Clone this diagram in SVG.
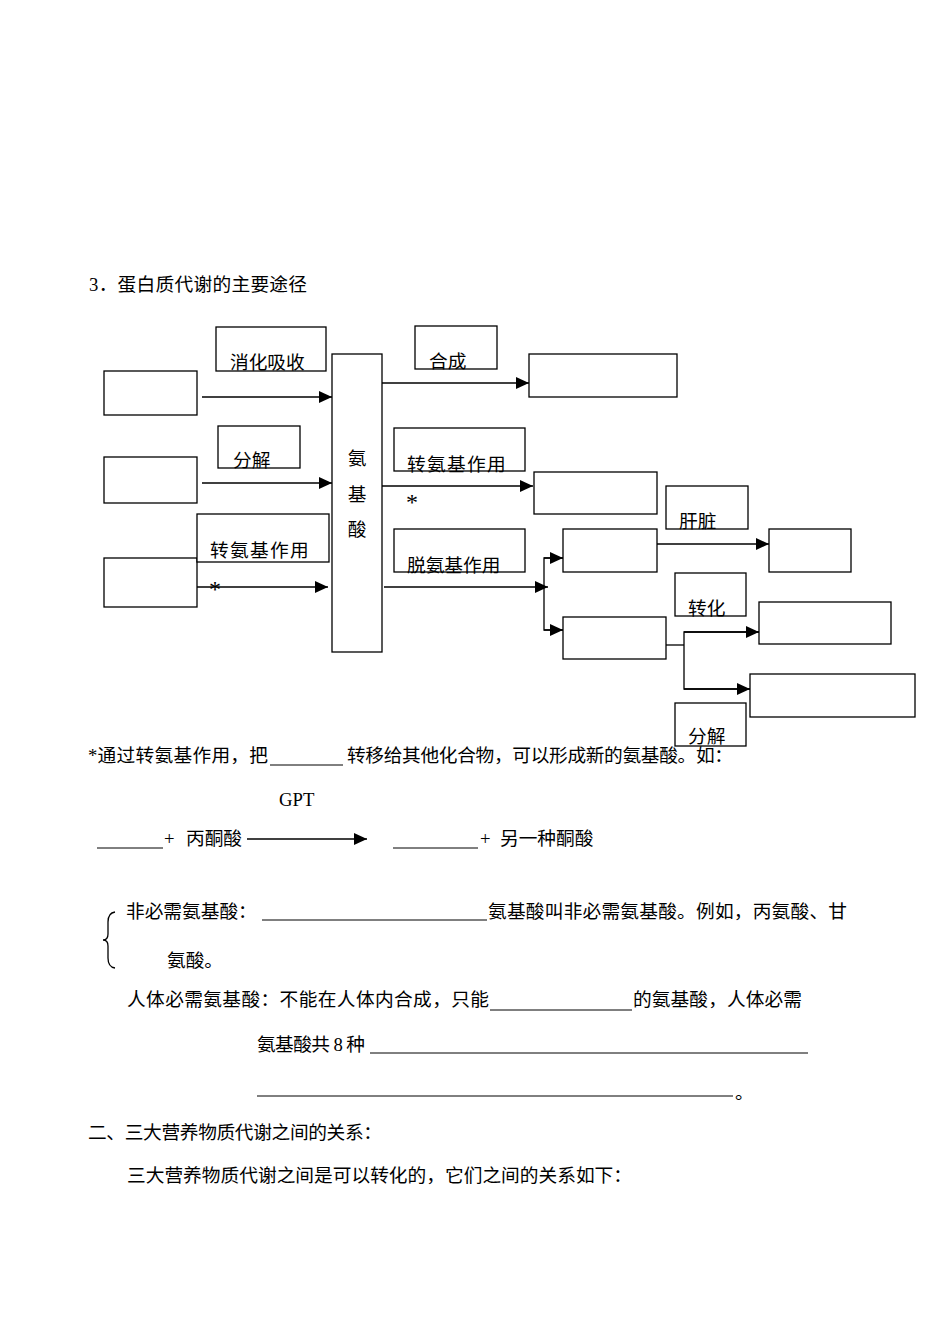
<svg xmlns="http://www.w3.org/2000/svg" width="950" height="1342" viewBox="0 0 950 1342">
<style>
.t{font-family:"Liberation Serif","Noto Sans CJK SC",serif;font-size:18.7px;fill:#000}
.s{font-family:"Liberation Serif",serif;font-size:24px;fill:#000}
.b{fill:#fff;stroke:#000;stroke-width:1.3}
.c{stroke:#000;stroke-width:1.3;fill:none}
.u{stroke:#000;stroke-width:1}
</style>
<defs>
<marker id="ah" markerUnits="userSpaceOnUse" markerWidth="14" markerHeight="12" refX="13" refY="6" orient="auto">
<path d="M0,0 L13,6 L0,12 z" fill="#000"/>
</marker>
</defs>
<rect width="950" height="1342" fill="#fff"/>

<text class="t" x="89" y="291" textLength="218">3．蛋白质代谢的主要途径</text>

<g id="connectors">
<line class="c" x1="202" y1="397" x2="332" y2="397" marker-end="url(#ah)"/>
<line class="c" x1="202" y1="483" x2="332" y2="483" marker-end="url(#ah)"/>
<line class="c" x1="197" y1="587" x2="328" y2="587" marker-end="url(#ah)"/>
<line class="c" x1="382" y1="383" x2="529" y2="383" marker-end="url(#ah)"/>
<line class="c" x1="382" y1="486" x2="533" y2="486" marker-end="url(#ah)"/>
<line class="c" x1="384" y1="587" x2="548" y2="587" marker-end="url(#ah)"/>
<polyline class="c" points="563,558 544,558 544,630 563,630"/>
<line class="c" x1="544" y1="558" x2="563" y2="558" marker-end="url(#ah)"/>
<line class="c" x1="544" y1="630" x2="563" y2="630" marker-end="url(#ah)"/>
<line class="c" x1="657" y1="544" x2="769" y2="544" marker-end="url(#ah)"/>
<line class="c" x1="666" y1="645" x2="684" y2="645"/>
<polyline class="c" points="759,632 684,632 684,689 750,689"/>
<line class="c" x1="684" y1="632" x2="759" y2="632" marker-end="url(#ah)"/>
<line class="c" x1="684" y1="689" x2="750" y2="689" marker-end="url(#ah)"/>
</g>

<g id="src1"><rect class="b" x="104" y="371" width="93" height="44"/></g>
<g id="src2"><rect class="b" x="104" y="457" width="93" height="46"/></g>
<g id="src3"><rect class="b" x="104" y="558" width="93" height="49"/></g>
<g id="lbl-xiaohua"><rect class="b" x="216" y="327" width="110" height="44"/><text class="t" x="230" y="369">消化吸收</text></g>
<g id="lbl-fenjie1"><rect class="b" x="218" y="426" width="82" height="42"/><text class="t" x="233" y="467">分解</text></g>
<g id="lbl-zhuan1"><rect class="b" x="197" y="514" width="132" height="48"/><text class="t" x="210" y="557" letter-spacing="1.3">转氨基作用</text></g>
<g id="star1"><text class="s" x="209" y="597">*</text></g>
<g id="aa"><rect class="b" x="332" y="354" width="50" height="298"/>
<text class="t" x="357" y="465" text-anchor="middle">氨</text>
<text class="t" x="357" y="501" text-anchor="middle">基</text>
<text class="t" x="357" y="536" text-anchor="middle">酸</text></g>
<g id="lbl-hecheng"><rect class="b" x="415" y="326" width="82" height="43"/><text class="t" x="429" y="368">合成</text></g>
<g id="dst1"><rect class="b" x="529" y="354" width="148" height="43"/></g>
<g id="lbl-zhuan2"><rect class="b" x="394" y="428" width="131" height="43"/><text class="t" x="407" y="471" letter-spacing="1.3">转氨基作用</text></g>
<g id="star2"><text class="s" x="406" y="510">*</text></g>
<g id="dst2"><rect class="b" x="534" y="472" width="123" height="42"/></g>
<g id="lbl-tuo"><rect class="b" x="394" y="529" width="131" height="43"/><text class="t" x="407" y="572">脱氨基作用</text></g>
<g id="mid1"><rect class="b" x="563" y="529" width="94" height="43"/></g>
<g id="mid2"><rect class="b" x="563" y="617" width="103" height="42"/></g>
<g id="lbl-ganzang"><rect class="b" x="666" y="486" width="82" height="43"/><text class="t" x="679" y="528">肝脏</text></g>
<g id="dst3"><rect class="b" x="769" y="529" width="82" height="43"/></g>
<g id="lbl-zhuanhua"><rect class="b" x="675" y="573" width="71" height="43"/><text class="t" x="688" y="615">转化</text></g>
<g id="dst4"><rect class="b" x="759" y="602" width="132" height="42"/></g>
<g id="dst5"><rect class="b" x="750" y="674" width="165" height="43"/></g>
<g id="lbl-fenjie2"><rect class="b" x="675" y="703" width="71" height="43"/><text class="t" x="688" y="743">分解</text></g>

<text class="t" x="88" y="762" textLength="180">*通过转氨基作用，把</text>
<line class="u" x1="270" y1="765" x2="343" y2="765"/>
<text class="t" x="347" y="762" textLength="386">转移给其他化合物，可以形成新的氨基酸。如：</text>

<text class="t" x="279" y="806" font-size="18">GPT</text>
<line class="u" x1="97" y1="848" x2="163" y2="848"/>
<text class="t" x="164" y="845">+</text>
<text class="t" x="186" y="845">丙酮酸</text>
<line class="c" x1="247" y1="839" x2="367" y2="839" marker-end="url(#ah)"/>
<line class="u" x1="393" y1="848" x2="478" y2="848"/>
<text class="t" x="480" y="845">+</text>
<text class="t" x="500" y="845">另一种酮酸</text>

<path class="c" d="M115,912 Q108,913 108,922 L108,934 Q108,940 103,940 Q108,940 108,946 L108,958 Q108,967 115,968" stroke-width="1.2"/>
<text class="t" x="126" y="918">非必需氨基酸：</text>
<line class="u" x1="262" y1="920" x2="487" y2="920"/>
<text class="t" x="488" y="918" textLength="359">氨基酸叫非必需氨基酸。例如，丙氨酸、甘</text>
<text class="t" x="167" y="967">氨酸。</text>

<text class="t" x="127" y="1006" textLength="362">人体必需氨基酸：不能在人体内合成，只能</text>
<line class="u" x1="490" y1="1010" x2="632" y2="1010"/>
<text class="t" x="633" y="1006" textLength="169">的氨基酸，人体必需</text>
<text class="t" x="257" y="1051" textLength="108">氨基酸共 8 种</text>
<line class="u" x1="370" y1="1053" x2="808" y2="1053"/>
<line class="u" x1="257" y1="1096" x2="733" y2="1096"/>
<text class="t" x="735" y="1099">。</text>

<text class="t" x="88" y="1139" textLength="294">二、三大营养物质代谢之间的关系：</text>
<text class="t" x="127" y="1182" textLength="505">三大营养物质代谢之间是可以转化的，它们之间的关系如下：</text>
</svg>
